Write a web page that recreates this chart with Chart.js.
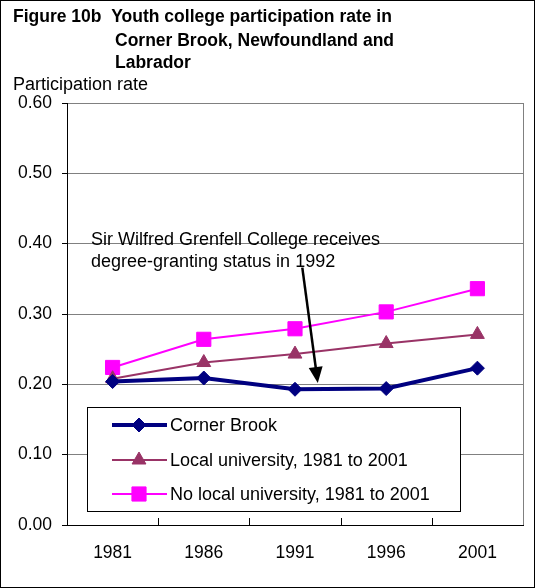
<!DOCTYPE html>
<html>
<head>
<meta charset="utf-8">
<script src="https://cdn.jsdelivr.net/npm/chart.js@4"></script>
<style>
  html, body { margin: 0; padding: 0; background: #fff; }
  #wrap { width: 535px; height: 588px; position: relative; }
</style>
</head>
<body>
<div id="wrap"><canvas id="chart" width="535" height="588"></canvas></div>
<script>
const years = ['1981', '1986', '1991', '1996', '2001'];
const cornerBrook = [0.204, 0.209, 0.193, 0.194, 0.223];
const localUni = [0.208, 0.231, 0.243, 0.258, 0.271];
const noLocalUni = [0.224, 0.264, 0.279, 0.303, 0.336];
const yTicks = [0, 0.1, 0.2, 0.3, 0.4, 0.5, 0.6];

const FONT = 'Arial, "Liberation Sans", sans-serif';

// рамка, заголовок, підписи, легенда і стрілка
const extras = {
  id: 'extras',
  afterDraw(chart) {
    const ctx = chart.ctx;
    const a = chart.chartArea;
    const x = chart.scales.x;
    const y = chart.scales.y;
    ctx.save();

    // зовнішня рамка
    ctx.strokeStyle = '#000';
    ctx.lineWidth = 1;
    ctx.strokeRect(0.5, 0.5, 534, 587);

    // права межа області графіка
    ctx.strokeStyle = '#808080';
    ctx.beginPath();
    ctx.moveTo(Math.round(a.right) + 0.5, a.top);
    ctx.lineTo(Math.round(a.right) + 0.5, a.bottom);
    ctx.stroke();

    // позначки між категоріями
    ctx.strokeStyle = '#000';
    ctx.beginPath();
    for (let i = 1; i < years.length; i++) {
      const px = Math.round((x.getPixelForTick(i - 1) + x.getPixelForTick(i)) / 2) + 0.5;
      ctx.moveTo(px, a.bottom);
      ctx.lineTo(px, a.bottom - 7);
    }
    ctx.stroke();

    // заголовок
    ctx.fillStyle = '#000';
    ctx.textBaseline = 'middle';
    ctx.textAlign = 'left';
    ctx.font = 'bold 17.5px ' + FONT;
    ctx.fillText('Figure 10b  Youth college participation rate in', 13, 17);
    ctx.fillText('Corner Brook, Newfoundland and', 115, 41);
    ctx.fillText('Labrador', 115, 63);
    ctx.font = '18px ' + FONT;
    ctx.fillText('Participation rate', 13, 85);

    // примітка
    ctx.fillText('Sir Wilfred Grenfell College receives', 91, 240);
    ctx.fillText('degree-granting status in 1992', 91, 262);

    // стрілка
    const x0 = x.getPixelForValue(2) + 0.08 * (x.getPixelForValue(3) - x.getPixelForValue(2));
    const y0 = y.getPixelForValue(0.366);
    const x1 = x.getPixelForValue(2) + 0.25 * (x.getPixelForValue(3) - x.getPixelForValue(2));
    const y1 = y.getPixelForValue(0.202);
    const ang = Math.atan2(y1 - y0, x1 - x0);
    ctx.strokeStyle = '#000';
    ctx.lineWidth = 2.5;
    ctx.beginPath();
    ctx.moveTo(x0, y0);
    ctx.lineTo(x1 - 12 * Math.cos(ang), y1 - 12 * Math.sin(ang));
    ctx.stroke();
    ctx.beginPath();
    ctx.moveTo(x1, y1);
    ctx.lineTo(x1 - 16 * Math.cos(ang) + 7 * Math.sin(ang), y1 - 16 * Math.sin(ang) - 7 * Math.cos(ang));
    ctx.lineTo(x1 - 16 * Math.cos(ang) - 7 * Math.sin(ang), y1 - 16 * Math.sin(ang) + 7 * Math.cos(ang));
    ctx.closePath();
    ctx.fill();

    // легенда
    const lx = 87, ly = 407, lw = 373, lh = 104;
    ctx.fillStyle = '#fff';
    ctx.fillRect(lx, ly, lw, lh);
    ctx.strokeStyle = '#000';
    ctx.lineWidth = 1;
    ctx.strokeRect(lx + 0.5, ly + 0.5, lw, lh);
    const rows = [425, 460, 494];
    chart.data.datasets.forEach((ds, i) => {
      const ry = rows[i];
      ctx.strokeStyle = ds.borderColor;
      ctx.lineWidth = ds.borderWidth;
      ctx.beginPath();
      ctx.moveTo(112, ry);
      ctx.lineTo(167, ry);
      ctx.stroke();
      ctx.fillStyle = ds.pointBackgroundColor;
      ctx.strokeStyle = ds.pointBorderColor;
      ctx.lineWidth = 1;
      ctx.beginPath();
      drawMarker(ctx, ds.pointStyle, 139, ry, ds.pointRadius);
      ctx.fill();
      ctx.stroke();
      ctx.fillStyle = '#000';
      ctx.font = '18px ' + FONT;
      ctx.fillText(ds.label, 170, ry + 1);
    });

    ctx.restore();
  }
};

function drawMarker(ctx, style, cx, cy, r) {
  if (style === 'rectRot') {
    ctx.moveTo(cx, cy - r); ctx.lineTo(cx + r, cy); ctx.lineTo(cx, cy + r); ctx.lineTo(cx - r, cy); ctx.closePath();
  } else if (style === 'triangle') {
    ctx.moveTo(cx, cy - r);
    ctx.lineTo(cx + r * 0.866, cy + r / 2);
    ctx.lineTo(cx - r * 0.866, cy + r / 2);
    ctx.closePath();
  } else {
    const s = r * Math.SQRT1_2;
    ctx.rect(cx - s, cy - s, 2 * s, 2 * s);
  }
}

new Chart(document.getElementById('chart'), {
  type: 'line',
  data: {
    labels: years,
    datasets: [
      {
        label: 'Corner Brook',
        data: cornerBrook,
        borderColor: '#000080',
        borderWidth: 4,
        pointStyle: 'rectRot',
        pointRadius: 7,
        pointBackgroundColor: '#000080',
        pointBorderColor: '#000080',
        pointBorderWidth: 1,
        order: 1
      },
      {
        label: 'Local university, 1981 to 2001',
        data: localUni,
        borderColor: '#993366',
        borderWidth: 2,
        pointStyle: 'triangle',
        pointRadius: 8,
        pointBackgroundColor: '#993366',
        pointBorderColor: '#993366',
        pointBorderWidth: 1,
        order: 2
      },
      {
        label: 'No local university, 1981 to 2001',
        data: noLocalUni,
        borderColor: '#ff00ff',
        borderWidth: 2,
        pointStyle: 'rect',
        pointRadius: 10,
        pointBackgroundColor: '#ff00ff',
        pointBorderColor: '#ff00ff',
        pointBorderWidth: 1,
        order: 3
      }
    ]
  },
  options: {
    responsive: false,
    animation: false,
    layout: { padding: { top: 103, right: 12, left: 0, bottom: 0 } },
    plugins: {
      legend: { display: false },
      title: { display: false },
      tooltip: { enabled: false }
    },
    scales: {
      x: {
        offset: true,
        afterFit(s) { s.height = 63; },
        grid: { display: false, drawTicks: false },
        border: { color: '#000', width: 1 },
        ticks: {
          color: '#000',
          font: { family: FONT, size: 17.5 },
          padding: 18,
          maxRotation: 0
        }
      },
      y: {
        min: 0,
        max: 0.6,
        afterFit(s) { s.width = 67; },
        afterBuildTicks(s) { s.ticks = yTicks.map(v => ({ value: v })); },
        grid: { color: '#808080', lineWidth: 1, tickLength: 5, tickColor: '#000' },
        border: { color: '#000', width: 1 },
        ticks: {
          color: '#000',
          font: { family: FONT, size: 17.5 },
          padding: 10,
          callback: v => v.toFixed(2)
        }
      }
    }
  },
  plugins: [extras]
});
</script>
</body>
</html>
